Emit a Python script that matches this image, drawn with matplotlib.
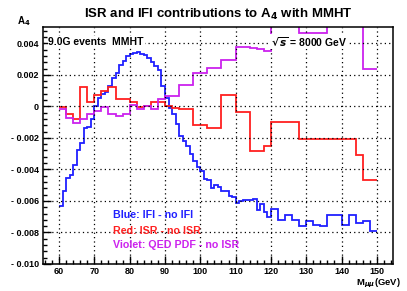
import numpy as np
import matplotlib
matplotlib.use('Agg')
import matplotlib.pyplot as plt
from matplotlib.ticker import MultipleLocator

# A4 differences, in units of 1e-3
blue_fine = [-6.3, -5.4, -4.55, -4.35, -3.75, -2.8, -2.3, -1.4, -1.3, -0.8,
             0.0, 0.5, 0.8, 0.9, 1.3, 1.8, 2.1, 2.6, 2.9, 3.2,
             3.3, 3.4, 3.45, 3.35, 3.25, 3.05, 2.8, 2.55, 2.3, 1.3,
             0.5, -0.1, -0.5, -1.1, -1.9, -2.2, -2.5, -3.0, -3.5, -3.85,
             -4.1, -4.6, -4.7, -5.2, -5.0, -5.1, -5.4, -5.4, -5.7, -5.75,
             -6.15, -6.0, -5.95, -5.95, -5.95, -5.85, -6.55, -6.2, -6.7, -7.0]
blue_coarse = [-6.5, -7.2, -6.9, -7.2, -7.6, -7.3, -7.5, -7.6, -6.9, -6.9,
               -7.5, -6.9, -7.4, -7.3, -7.9]

red_vals = [-0.05, -0.5, -0.8, 1.2, 0.25, 0.75, 1.0, 1.2, 0.45, 0.45,
            0.3, -0.05, 0.05, 0.25, 0.25, 0.05, -0.1, -0.15, -0.15, -1.2,
            -1.2, -1.4, -1.4, 0.7, 0.7, -0.35, -0.35, -2.85, -2.85, -2.5,
            -1.0, -1.0, -1.0, -1.0, -2.05, -2.05, -2.05, -2.05, -2.05, -2.05,
            -2.05, -2.05, -3.1, -4.7, -4.7]

violet_vals = [-0.15, -0.75, -1.05, -0.8, -0.5, -0.3, -0.06, -0.5, -0.6, -0.5,
               0.1, -0.2, 0.0, -0.15, 0.45, 0.65, 0.65, 1.35, 1.35, 2.1,
               2.1, 2.45, 2.45, 2.95, 2.95, 3.75, 3.75, 3.7, 3.65, 3.5,
               5.6, 5.6, 5.6, 5.6, 4.65, 4.65, 4.65, 4.65, 6.0, 6.0,
               6.0, 6.0, 6.0, 2.35, 2.35]

blue_edges = np.concatenate([np.arange(60, 120, 1), np.arange(120, 151, 2)])
wide_edges = np.arange(60, 151, 2)

yticks = [0.004, 0.002, 0, -0.002, -0.004, -0.006, -0.008, -0.010]
ylabels = ['0.004', '0.002', '0', '- 0.002', '- 0.004', '- 0.006', '- 0.008', '- 0.010']
xticks = [60, 70, 80, 90, 100, 110, 120, 130, 140, 150]

plt.rcParams['font.family'] = ['Liberation Sans', 'DejaVu Sans']
plt.rcParams['font.weight'] = 'bold'

fig = plt.figure(figsize=(4.07, 2.91), dpi=100)
ax = fig.add_axes([0.106, 0.093, 0.859, 0.814])

c_blue = '#2020ff'
c_red = '#ff2020'
c_violet = '#cc22ee'

e = 1e-3
ax.stairs(np.array(blue_fine + blue_coarse) * e, blue_edges, baseline=None,
          color=c_blue, lw=1.3)
ax.stairs(np.array(red_vals) * e, wide_edges, baseline=None, color=c_red, lw=1.3)
ax.stairs(np.array(violet_vals) * e, wide_edges, baseline=None,
          color=c_violet, lw=1.3)

ax.set_xlim(55.5, 154.5)
ax.set_ylim(-0.010, 0.00503)
ax.set_xticks(xticks)
ax.set_yticks(yticks)
ax.set_yticklabels(ylabels)
ax.xaxis.set_minor_locator(MultipleLocator(2))
ax.yaxis.set_minor_locator(MultipleLocator(0.0004))
ax.tick_params(which='both', direction='in', top=False, right=False,
               labelsize=6.5, width=1)
ax.tick_params(which='major', length=6, pad=3)
ax.tick_params(axis='x', which='major', pad=2)
ax.tick_params(which='minor', length=3)
ax.grid(True, which='major', color='black', ls=(0, (1, 2.5)), lw=0.9)
for s in ax.spines.values():
    s.set_linewidth(1.1)

ax.text(57, 0.0041, '9.0G events  MMHT', fontsize=7.5, fontweight='bold',
        va='center', ha='left',
        bbox=dict(facecolor='white', edgecolor='none', pad=0.5))
ax.text(120, 0.0041, r'$\sqrt{s}$ = 8000 GeV', fontsize=7.5, fontweight='bold',
        va='center', ha='left',
        bbox=dict(facecolor='white', edgecolor='none', pad=0.5))

ax.text(75.3, -0.0069, 'Blue: IFI - no IFI', color=c_blue, fontsize=7.7,
        fontweight='bold', va='center')
ax.text(75.3, -0.0079, 'Red: ISR - no ISR', color=c_red, fontsize=7.7,
        fontweight='bold', va='center')
ax.text(75.3, -0.0088, 'Violet: QED PDF - no ISR', color=c_violet, fontsize=7.7,
        fontweight='bold', va='center')

fig.text(0.537, 0.952, r'ISR and IFI contributions to A$_{\mathbf{4}}$ with MMHT',
         ha='center', va='center', fontsize=9.5, fontweight='bold')
fig.text(0.042, 0.928, r'A$_{\mathbf{4}}$', ha='left', va='center', fontsize=7,
         fontweight='bold')
fig.text(0.985, 0.002, r'M$_{\mu\mu}$(GeV)', ha='right', va='bottom', fontsize=6.8,
         fontweight='bold')

plt.savefig('out.png', dpi=100)
plt.close()
